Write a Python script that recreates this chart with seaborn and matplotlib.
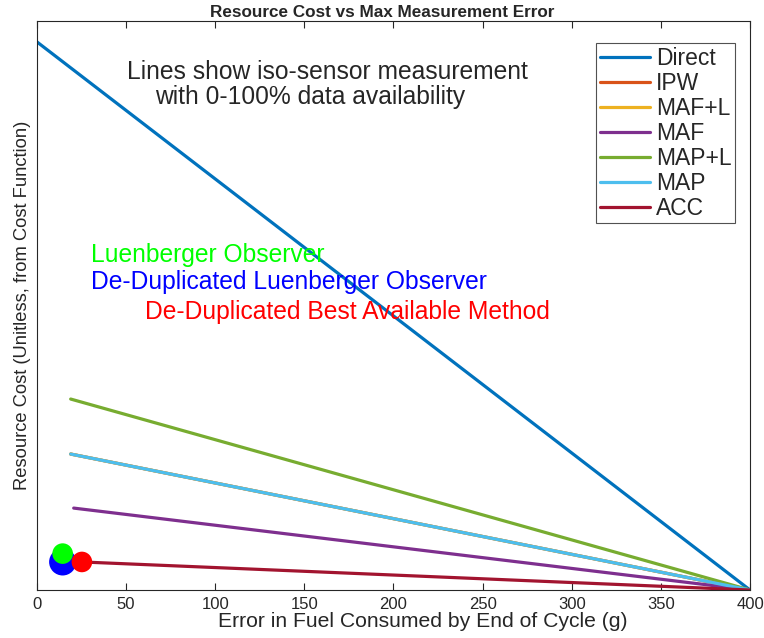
import matplotlib
matplotlib.use("Agg")
import matplotlib.pyplot as plt
import seaborn as sns
import pandas as pd

# ---- data (y in arbitrary cost units) ----
methods = ["Direct", "IPW", "MAF+L", "MAF", "MAP+L", "MAP", "ACC"]
start_x = [0.0, 18.9, 18.9, 20.6, 18.9, 18.9, 25.2]
start_y = [28.9, 7.17, 7.17, 4.32, 10.07, 7.17, 1.48]
end_x = [400.0] * 7
end_y = [0.0] * 7
colors = ["#0072BD", "#D95319", "#EDB120", "#7E2F8E", "#77AC30", "#4DBEEE", "#A2142F"]

dot_names = ["De-Duplicated Luenberger Observer", "Luenberger Observer",
             "De-Duplicated Best Available Method"]
dot_x = [14.4, 14.4, 25.2]
dot_y = [1.48, 1.92, 1.48]
dot_colors = ["#0000FF", "#00FF00", "#FF0000"]
dot_sizes = [380, 220, 220]

xticks = [0, 50, 100, 150, 200, 250, 300, 350, 400]

rows = []
for m, x0, y0, x1, y1 in zip(methods, start_x, start_y, end_x, end_y):
    rows.append({"method": m, "x": x0, "y": y0, "order": 0})
    rows.append({"method": m, "x": x1, "y": y1, "order": 1})
lines = pd.DataFrame(rows)

sns.set_style("white")
plt.rcParams["font.family"] = ["Liberation Sans", "DejaVu Sans"]

fig = plt.figure(figsize=(7.64, 6.38), dpi=100)
ax = fig.add_axes([0.0484, 0.0752, 0.9333, 0.8918])

sns.lineplot(data=lines, x="x", y="y", hue="method", hue_order=methods,
             palette=colors, sort=False, estimator=None, linewidth=2.3, ax=ax)

for name, x, y, c, s in zip(dot_names, dot_x, dot_y, dot_colors, dot_sizes):
    sns.scatterplot(x=[x], y=[y], color=c, s=s, edgecolor="none", ax=ax,
                    legend=False, zorder=5)

ax.set_xlim(0, 400)
ax.set_ylim(0, 30)
ax.set_xticks(xticks)
ax.set_yticks([])
ax.tick_params(axis="x", direction="in", length=5, width=0.8, top=True,
               bottom=True, labelsize=12, colors="#262626", pad=5)
for sp in ax.spines.values():
    sp.set_color("#262626")
    sp.set_linewidth(0.8)
    sp.set_visible(True)

ax.set_title("Resource Cost vs Max Measurement Error", fontsize=12.3,
             fontweight="bold", x=0.484, pad=3)
ax.set_xlabel("Error in Fuel Consumed by End of Cycle (g)", fontsize=15.2,
              color="#262626")
ax.xaxis.set_label_coords(0.5407, -0.0545, transform=ax.transAxes)
ax.xaxis.label.set_va("center")
ax.set_ylabel("Resource Cost (Unitless, from Cost Function)", fontsize=13.2,
              color="#262626", labelpad=4)

ax.text(50.5, 27.3, "Lines show iso-sensor measurement",
        fontsize=17.7, ha="left", va="center")
ax.text(66.2, 26.0, "with 0-100% data availability",
        fontsize=17.7, ha="left", va="center")
ax.text(30.3, 17.65, "Luenberger Observer", color="#00FF00", fontsize=17.7,
        ha="left", va="center")
ax.text(30.3, 16.22, "De-Duplicated Luenberger Observer", color="#0000FF",
        fontsize=17.7, ha="left", va="center")
ax.text(60.5, 14.65, "De-Duplicated Best Available Method", color="#FF0000",
        fontsize=17.7, ha="left", va="center")

leg = ax.legend(loc="upper right", bbox_to_anchor=(0.979, 0.961), fontsize=16.5,
                frameon=True, fancybox=False, edgecolor="#262626",
                handlelength=2.2, handletextpad=0.26, labelspacing=0.09,
                borderpad=0.15, borderaxespad=0)
leg.get_frame().set_linewidth(0.8)
for h in leg.get_lines():
    h.set_linewidth(2.3)

fig.savefig("out.png", dpi=100)
